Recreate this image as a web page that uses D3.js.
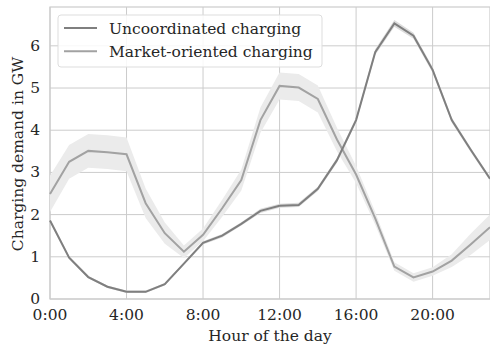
<!DOCTYPE html>
<html>
<head>
<meta charset="utf-8">
<script src="https://cdn.jsdelivr.net/npm/d3@7"></script>
<style>
  body { margin: 0; background: #fff; }
  svg text { font-family: "DejaVu Serif", serif; fill: #262626; font-size: 15.5px; }
</style>
</head>
<body>
<svg width="490" height="349"></svg>
<script>
// hours of the day
var hours = d3.range(0, 24);

// uncoordinated charging (GW)
var uncoordinated = [1.86, 0.98, 0.52, 0.29, 0.17, 0.17, 0.35, 0.84, 1.33, 1.50, 1.78, 2.09,
                     2.21, 2.23, 2.61, 3.29, 4.24, 5.85, 6.53, 6.24, 5.43, 4.24, 3.53, 2.85];
var uncoordSpread = [0.04, 0.04, 0.03, 0.03, 0.03, 0.03, 0.03, 0.03, 0.04, 0.04, 0.04, 0.05,
                     0.05, 0.05, 0.05, 0.06, 0.06, 0.07, 0.08, 0.07, 0.07, 0.06, 0.05, 0.05];

// market-oriented charging (GW)
var market = [2.49, 3.25, 3.51, 3.48, 3.43, 2.27, 1.56, 1.12, 1.52, 2.15, 2.82, 4.24,
              5.05, 5.01, 4.74, 3.78, 2.95, 1.91, 0.77, 0.51, 0.65, 0.91, 1.30, 1.70];
var marketSpread = [0.43, 0.40, 0.40, 0.40, 0.40, 0.35, 0.25, 0.15, 0.15, 0.2, 0.25, 0.3,
                    0.32, 0.32, 0.32, 0.28, 0.2, 0.15, 0.1, 0.1, 0.1, 0.15, 0.25, 0.3];

var xTicks = [0, 4, 8, 12, 16, 20];
var xTickLabels = ["0:00", "4:00", "8:00", "12:00", "16:00", "20:00"];
var yTicks = [0, 1, 2, 3, 4, 5, 6];
var seriesNames = ["Uncoordinated charging", "Market-oriented charging"];

var margin = {top: 7, right: 0, bottom: 50, left: 50},
    width = 490 - margin.left - margin.right,
    height = 349 - margin.top - margin.bottom;

var svg = d3.select("svg")
  .append("g")
  .attr("transform", "translate(" + margin.left + "," + margin.top + ")");

var x = d3.scaleLinear().domain([0, 23]).range([0, width]);
var y = d3.scaleLinear().domain([0, 6.92]).range([height, 0]);

// grid
svg.append("g").selectAll("line")
  .data(xTicks).enter().append("line")
  .attr("x1", d => x(d)).attr("x2", d => x(d))
  .attr("y1", 0).attr("y2", height)
  .attr("stroke", "#cccccc").attr("stroke-width", 1);
svg.append("g").selectAll("line")
  .data(yTicks).enter().append("line")
  .attr("x1", 0).attr("x2", width)
  .attr("y1", d => y(d)).attr("y2", d => y(d))
  .attr("stroke", "#cccccc").attr("stroke-width", 1);

// frame
svg.append("rect")
  .attr("x", 0).attr("y", 0).attr("width", width).attr("height", height)
  .attr("fill", "none").attr("stroke", "#cccccc").attr("stroke-width", 1.2);

var area = function(vals, spread) {
  return d3.area()
    .x((d, i) => x(hours[i]))
    .y0((d, i) => y(vals[i] - spread[i]))
    .y1((d, i) => y(vals[i] + spread[i]))(vals);
};
var line = d3.line().x((d, i) => x(hours[i])).y(d => y(d));

// bands
svg.append("path").attr("d", area(market, marketSpread))
  .attr("fill", "#ebebeb");
svg.append("path").attr("d", area(uncoordinated, uncoordSpread))
  .attr("fill", "#dcdcdc");

// lines
svg.append("path").attr("d", line(market))
  .attr("fill", "none").attr("stroke", "#a2a2a2").attr("stroke-width", 2);
svg.append("path").attr("d", line(uncoordinated))
  .attr("fill", "none").attr("stroke", "#7f7f7f").attr("stroke-width", 2);

// tick labels
svg.append("g").selectAll("text")
  .data(xTicks).enter().append("text")
  .attr("x", d => x(d)).attr("y", height + 21)
  .attr("text-anchor", "middle")
  .text((d, i) => xTickLabels[i]);
svg.append("g").selectAll("text")
  .data(yTicks).enter().append("text")
  .attr("x", -10).attr("y", d => y(d) + 5)
  .attr("text-anchor", "end")
  .text(d => d);

// axis titles
svg.append("text")
  .attr("x", width / 2).attr("y", height + 42)
  .attr("text-anchor", "middle")
  .text("Hour of the day");
svg.append("text")
  .attr("transform", "translate(" + (-27) + "," + (height / 2 + 1) + ") rotate(-90)")
  .attr("text-anchor", "middle")
  .text("Charging demand in GW");

// legend
var legend = svg.append("g").attr("transform", "translate(8,8)");
legend.append("rect")
  .attr("width", 264).attr("height", 52).attr("rx", 3)
  .attr("fill", "#fff").attr("fill-opacity", 0.85)
  .attr("stroke", "#dddddd").attr("stroke-width", 1);
var legendColors = ["#7f7f7f", "#a2a2a2"];
seriesNames.forEach(function(name, i) {
  var ly = 13 + i * 23.3;
  legend.append("line")
    .attr("x1", 6).attr("x2", 39).attr("y1", ly).attr("y2", ly)
    .attr("stroke", legendColors[i]).attr("stroke-width", 2);
  legend.append("text")
    .attr("x", 51).attr("y", ly + 5.5)
    .text(name);
});
</script>
</body>
</html>
